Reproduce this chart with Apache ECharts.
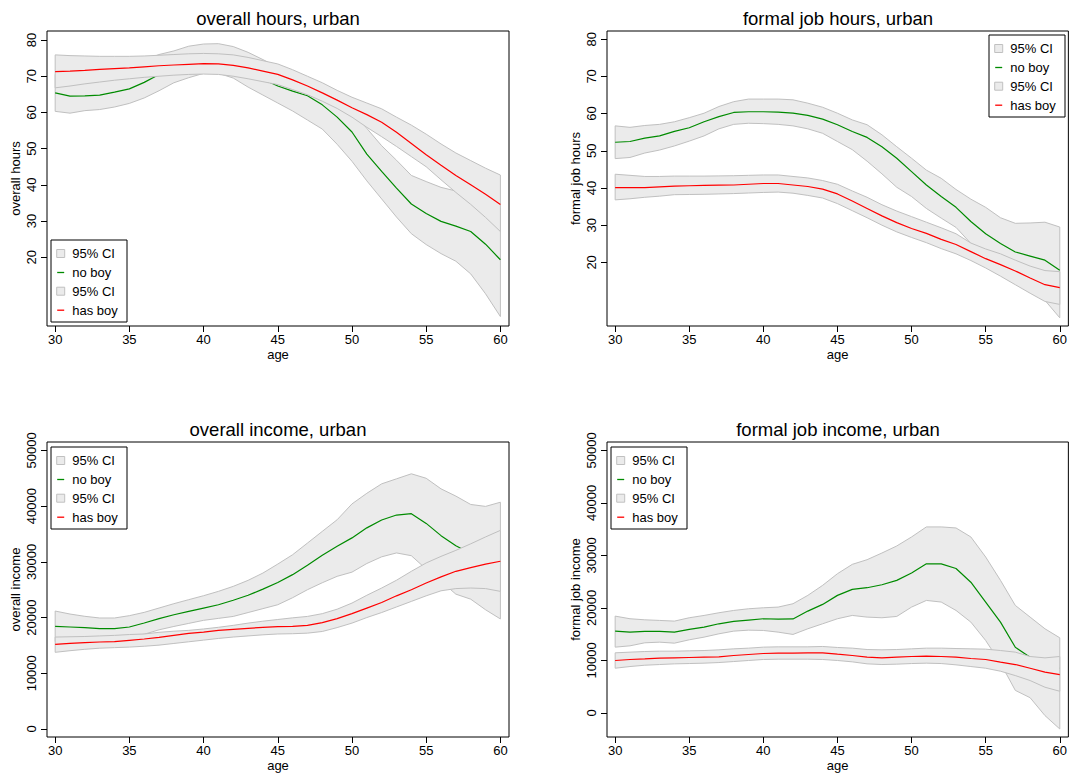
<!DOCTYPE html>
<html>
<head>
<meta charset="utf-8">
<title>Hours and income by age, urban</title>
<script src="https://cdn.jsdelivr.net/npm/echarts@6/dist/echarts.min.js"></script>
<style>
  html, body { margin: 0; padding: 0; background: #fff; }
  #chart { width: 1070px; height: 778px; }
</style>
</head>
<body>
<div id="chart"></div>
<script>
// ---- data -------------------------------------------------------------
const ages = [30, 31, 32, 33, 34, 35, 36, 37, 38, 39, 40, 41, 42, 43, 44, 45,
              46, 47, 48, 49, 50, 51, 52, 53, 54, 55, 56, 57, 58, 59, 60];
const ageTicks = [30, 35, 40, 45, 50, 55, 60];
const hourTicks = [20, 30, 40, 50, 60, 70, 80];
const incomeTicks = [0, 10000, 20000, 30000, 40000, 50000];

// overall hours
const hoursNoBoy   = [65.4, 64.5, 64.6, 64.8, 65.6, 66.5, 68.3, 70.5, 72.0, 73.0, 73.4, 73.3, 72.5, 71.0, 69.2, 67.3, 65.9, 64.6, 62.1, 58.7, 54.6, 48.5, 43.7, 39.1, 34.7, 32.1, 29.9, 28.6, 27.1, 23.6, 19.3];
const hoursNoBoyLo = [60.3, 59.8, 60.5, 60.8, 61.5, 62.5, 64.0, 66.0, 68.2, 69.6, 70.8, 70.8, 69.5, 67.0, 64.8, 62.6, 60.4, 57.9, 55.4, 51.2, 46.5, 41.1, 36.1, 31.1, 26.5, 23.5, 21.0, 18.9, 15.4, 9.9, 3.6];
const hoursNoBoyHi = [70.5, 70.8, 71.0, 71.3, 71.8, 72.5, 74.5, 76.0, 77.0, 78.3, 78.9, 79.0, 78.2, 76.6, 74.6, 72.5, 71.0, 69.5, 67.5, 65.0, 60.5, 55.6, 50.8, 46.8, 42.6, 40.9, 39.3, 38.3, 37.0, 35.5, 33.5];
const hoursHasBoy   = [71.3, 71.4, 71.6, 71.9, 72.1, 72.3, 72.6, 72.9, 73.1, 73.3, 73.5, 73.4, 73.0, 72.3, 71.4, 70.5, 69.0, 67.3, 65.4, 63.4, 61.3, 59.4, 57.3, 54.5, 51.4, 48.3, 45.4, 42.6, 40.0, 37.4, 34.6];
const hoursHasBoyLo = [66.8, 67.3, 67.9, 68.4, 68.9, 69.3, 69.7, 70.0, 70.3, 70.5, 70.6, 70.5, 70.0, 69.3, 68.5, 67.7, 66.3, 64.9, 63.1, 61.1, 58.7, 55.9, 53.3, 50.6, 47.8, 45.0, 41.4, 37.9, 34.6, 31.0, 27.1];
const hoursHasBoyHi = [75.9, 75.7, 75.6, 75.5, 75.5, 75.5, 75.6, 75.8, 76.0, 76.2, 76.3, 76.2, 75.9, 75.2, 74.3, 73.4, 71.8, 70.0, 68.2, 66.1, 64.2, 62.6, 61.0, 58.7, 56.5, 54.0, 51.3, 48.8, 46.7, 44.6, 42.7];

// formal job hours
const formalHoursNoBoy   = [52.3, 52.5, 53.4, 54.0, 55.2, 56.2, 57.8, 59.2, 60.3, 60.5, 60.5, 60.4, 60.1, 59.5, 58.5, 57.0, 55.2, 53.6, 51.1, 48.0, 44.4, 40.8, 37.7, 34.8, 31.0, 27.7, 25.1, 22.8, 21.7, 20.6, 17.9];
const formalHoursNoBoyLo = [47.9, 48.2, 49.4, 50.2, 51.3, 52.6, 54.0, 55.9, 57.1, 57.4, 57.3, 57.1, 56.7, 55.9, 54.7, 52.5, 50.3, 47.2, 43.8, 40.2, 37.7, 34.5, 31.9, 29.4, 25.1, 22.0, 19.0, 16.0, 13.0, 9.8, 5.1];
const formalHoursNoBoyHi = [56.7, 56.3, 56.8, 57.1, 57.8, 58.9, 60.1, 61.9, 63.2, 63.9, 63.9, 63.9, 63.7, 62.8, 61.7, 60.1, 58.3, 57.0, 54.3, 51.1, 48.0, 44.8, 42.6, 39.6, 37.0, 34.8, 32.0, 30.5, 30.6, 30.8, 29.5];
const formalHoursHasBoy   = [40.1, 40.1, 40.1, 40.3, 40.5, 40.6, 40.7, 40.75, 40.8, 41.0, 41.2, 41.2, 40.8, 40.4, 39.7, 38.4, 36.5, 34.5, 32.5, 30.7, 29.1, 27.8, 26.2, 24.8, 22.9, 21.0, 19.4, 17.7, 15.8, 14.0, 13.2];
const formalHoursHasBoyLo = [36.8, 37.1, 37.5, 37.8, 38.2, 38.25, 38.3, 38.4, 38.5, 38.65, 38.8, 38.9, 38.6, 38.0, 37.3, 35.8, 33.9, 32.0, 30.0, 28.2, 26.7, 25.3, 23.7, 22.3, 20.5, 18.5, 16.3, 14.0, 11.7, 9.5, 8.7];
const formalHoursHasBoyHi = [43.7, 43.4, 43.1, 43.1, 43.2, 43.2, 43.2, 43.25, 43.3, 43.4, 43.5, 43.5, 43.1, 42.7, 42.0, 41.0, 39.2, 37.5, 35.5, 33.8, 32.3, 30.8, 29.3, 27.7, 25.2, 23.6, 22.3, 20.6, 19.0, 17.8, 17.5];

// overall income
const incomeNoBoy   = [18420, 18300, 18180, 18000, 18000, 18300, 19020, 19800, 20500, 21100, 21700, 22300, 23100, 24000, 25100, 26300, 27700, 29400, 31200, 32800, 34300, 36100, 37500, 38400, 38650, 36900, 34700, 32900, 31500, 30300, 29800];
const incomeNoBoyLo = [15700, 15800, 15900, 16000, 16200, 16500, 17000, 17800, 18400, 18950, 19500, 19850, 20200, 20900, 21600, 22300, 23560, 25000, 26250, 27400, 28150, 29700, 30900, 31600, 31100, 28700, 26500, 24200, 23300, 21400, 19750];
const incomeNoBoyHi = [21170, 20630, 20220, 19920, 19920, 20340, 20930, 21710, 22490, 23210, 23920, 24700, 25600, 26680, 27990, 29600, 31280, 33370, 35470, 37560, 40400, 42300, 44000, 44900, 45800, 45000, 43100, 41800, 40300, 39950, 40700];
const incomeHasBoy   = [15190, 15370, 15490, 15610, 15670, 15910, 16150, 16450, 16810, 17170, 17400, 17700, 17880, 18060, 18240, 18360, 18420, 18600, 19100, 19800, 20700, 21700, 22700, 23900, 25000, 26200, 27300, 28300, 28950, 29600, 30100];
const incomeHasBoyLo = [13760, 14050, 14300, 14500, 14600, 14700, 14850, 15050, 15350, 15650, 15950, 16250, 16500, 16700, 16900, 17050, 17100, 17200, 17500, 18200, 19000, 20000, 20900, 21900, 22900, 23900, 24800, 25200, 25300, 25200, 24700];
const incomeHasBoyHi = [16500, 16550, 16600, 16700, 16800, 16950, 17050, 17350, 17550, 17700, 17950, 18250, 18600, 19000, 19350, 19650, 19950, 20200, 20700, 21500, 22600, 24000, 25300, 26700, 28300, 29800, 30980, 32060, 33230, 34470, 35650];

// formal job income
const formalIncomeNoBoy   = [15580, 15390, 15520, 15520, 15390, 15900, 16350, 16980, 17430, 17680, 17940, 17870, 17900, 19400, 20670, 22390, 23530, 23850, 24420, 25250, 26650, 28400, 28400, 27500, 24900, 21100, 17300, 12500, 10600, 9500, 8500];
const formalIncomeNoBoyLo = [12530, 12780, 13360, 13480, 13290, 13930, 14440, 15070, 15580, 15770, 15710, 15390, 14950, 16030, 16980, 17940, 18570, 18250, 18130, 18380, 20160, 21430, 21120, 19520, 17300, 13800, 9500, 4300, 2900, -500, -3050];
const formalIncomeNoBoyHi = [18440, 17940, 17740, 17620, 17490, 18130, 18570, 19080, 19520, 19840, 20030, 20160, 20800, 22390, 24300, 26520, 28300, 29190, 30460, 31800, 33520, 35430, 35430, 35230, 33520, 29700, 25250, 20480, 18250, 16030, 14310];
const formalIncomeHasBoy   = [9990, 10180, 10300, 10430, 10490, 10560, 10620, 10680, 10940, 11130, 11320, 11380, 11380, 11450, 11450, 11190, 10940, 10620, 10490, 10620, 10750, 10810, 10750, 10620, 10370, 10180, 9670, 9220, 8520, 7760, 7310];
const formalIncomeHasBoyLo = [8520, 8840, 9090, 9220, 9350, 9410, 9480, 9600, 9790, 9990, 10180, 10240, 10240, 10240, 10180, 9990, 9730, 9350, 9220, 9290, 9410, 9480, 9410, 9160, 8840, 8520, 7950, 7120, 6170, 4900, 4130];
const formalIncomeHasBoyHi = [11450, 11580, 11700, 11770, 11770, 11830, 11890, 12020, 12210, 12340, 12530, 12590, 12590, 12590, 12660, 12470, 12340, 12080, 12020, 12080, 12210, 12340, 12340, 12270, 12210, 12150, 11890, 11580, 10750, 10490, 10750];

const legendLabels = ['95% CI', 'no boy', '95% CI', 'has boy'];

// ---- styling / layout -------------------------------------------------
const FONT = '"Liberation Sans", Arial, Helvetica, sans-serif';
const GREEN = '#008b00';
const RED = '#ff0000';
const BAND_FILL = '#ebebeb';
const BAND_EDGE = '#c0c0c0';

const panels = [
  { title: 'overall hours, urban', yName: 'overall hours',
    grid: { left: 47, top: 31, width: 462, height: 295 },
    yMin: 1.0, yMax: 82.5, yTicks: hourTicks,
    noBoy: hoursNoBoy, noBoyLo: hoursNoBoyLo, noBoyHi: hoursNoBoyHi,
    hasBoy: hoursHasBoy, hasBoyLo: hoursHasBoyLo, hasBoyHi: hoursHasBoyHi,
    legend: [51, 240] },
  { title: 'formal job hours, urban', yName: 'formal job hours',
    grid: { left: 607, top: 31, width: 462, height: 295 },
    yMin: 2.9, yMax: 82.2, yTicks: hourTicks,
    noBoy: formalHoursNoBoy, noBoyLo: formalHoursNoBoyLo, noBoyHi: formalHoursNoBoyHi,
    hasBoy: formalHoursHasBoy, hasBoyLo: formalHoursHasBoyLo, hasBoyHi: formalHoursHasBoyHi,
    legend: [989, 35] },
  { title: 'overall income, urban', yName: 'overall income',
    grid: { left: 47, top: 442, width: 462, height: 295 },
    yMin: -1440, yMax: 51510, yTicks: incomeTicks,
    noBoy: incomeNoBoy, noBoyLo: incomeNoBoyLo, noBoyHi: incomeNoBoyHi,
    hasBoy: incomeHasBoy, hasBoyLo: incomeHasBoyLo, hasBoyHi: incomeHasBoyHi,
    legend: [51, 447] },
  { title: 'formal job income, urban', yName: 'formal job income',
    grid: { left: 607, top: 442, width: 462, height: 295 },
    yMin: -4580, yMax: 51600, yTicks: incomeTicks,
    noBoy: formalIncomeNoBoy, noBoyLo: formalIncomeNoBoyLo, noBoyHi: formalIncomeNoBoyHi,
    hasBoy: formalIncomeHasBoy, hasBoyLo: formalIncomeHasBoyLo, hasBoyHi: formalIncomeHasBoyHi,
    legend: [611, 447] }
];

// Shaded confidence band: one polygon through the upper bound and back
// along the lower bound, placed with the panel's own axes.
function bandSeries(idx, lo, hi, z) {
  return {
    type: 'custom', xAxisIndex: idx, yAxisIndex: idx, z: z, silent: true,
    data: ages.map((a, i) => [a, lo[i], hi[i]]),
    renderItem(params, api) {
      if (params.dataIndex !== 0) return null;
      const pts = [];
      for (let i = 0; i < ages.length; i++) pts.push(api.coord([ages[i], hi[i]]));
      for (let i = ages.length - 1; i >= 0; i--) pts.push(api.coord([ages[i], lo[i]]));
      return {
        type: 'polygon', shape: { points: pts },
        style: { fill: BAND_FILL, stroke: BAND_EDGE, lineWidth: 1 }
      };
    }
  };
}

function lineSeries(idx, values, color, z) {
  return {
    type: 'line', xAxisIndex: idx, yAxisIndex: idx, z: z, silent: true,
    data: ages.map((a, i) => [a, values[i]]),
    showSymbol: false, smooth: false, animation: false,
    lineStyle: { color: color, width: 1.2 }
  };
}

function legendGroup(x, y) {
  const rowY = [13.5, 32.5, 51.2, 70.2];
  const children = [{
    type: 'rect', shape: { x: 0, y: 0, width: 76, height: 82 },
    style: { fill: '#fff', stroke: '#000', lineWidth: 1 }
  }];
  legendLabels.forEach((label, i) => {
    if (i % 2 === 0) {
      children.push({ type: 'rect', shape: { x: 5.7, y: rowY[i] - 4, width: 8, height: 8 },
        style: { fill: BAND_FILL, stroke: BAND_EDGE, lineWidth: 1 } });
    } else {
      children.push({ type: 'line', shape: { x1: 6.2, y1: rowY[i], x2: 13.2, y2: rowY[i] },
        style: { stroke: i === 1 ? GREEN : RED, lineWidth: 1.3 } });
    }
    children.push({ type: 'text', x: 21.3, y: rowY[i],
      style: { text: label, fill: '#000', font: '13px ' + FONT,
               textVerticalAlign: 'middle', verticalAlign: 'middle' } });
  });
  return { type: 'group', x: x, y: y, z: 100, children: children };
}

const grids = [], xAxes = [], yAxes = [], series = [], graphics = [];

panels.forEach((p, idx) => {
  grids.push(Object.assign({ show: true, borderColor: '#000', borderWidth: 1,
                             backgroundColor: 'transparent' }, p.grid));

  xAxes.push({
    type: 'value', gridIndex: idx, min: 29.45, max: 60.58,
    position: 'bottom',
    axisLine: { show: false, onZero: false },
    axisTick: { show: true, customValues: ageTicks, length: 6, inside: false,
                lineStyle: { color: '#000', width: 1 } },
    axisLabel: { customValues: ageTicks, color: '#000', fontSize: 13, fontFamily: FONT,
                 margin: 7, formatter: v => String(v) },
    splitLine: { show: false },
    name: 'age', nameLocation: 'middle', nameGap: 22,
    nameTextStyle: { color: '#000', fontSize: 13, fontFamily: FONT }
  });

  yAxes.push({
    type: 'value', gridIndex: idx, min: p.yMin, max: p.yMax,
    position: 'left',
    axisLine: { show: false, onZero: false },
    axisTick: { show: true, customValues: p.yTicks, length: 6, inside: false,
                lineStyle: { color: '#000', width: 1 } },
    axisLabel: { customValues: p.yTicks, color: '#000', fontSize: 13, fontFamily: FONT,
                 rotate: 90, margin: 9, formatter: v => String(v) },
    splitLine: { show: false },
    name: p.yName, nameLocation: 'middle', nameGap: 25,
    nameTextStyle: { color: '#000', fontSize: 13, fontFamily: FONT }
  });

  // drawing order: no-boy band, no-boy line, has-boy band, has-boy line
  series.push(bandSeries(idx, p.noBoyLo, p.noBoyHi, 1));
  series.push(lineSeries(idx, p.noBoy, GREEN, 2));
  series.push(bandSeries(idx, p.hasBoyLo, p.hasBoyHi, 3));
  series.push(lineSeries(idx, p.hasBoy, RED, 4));

  const cx = p.grid.left + p.grid.width / 2;
  graphics.push({
    type: 'text', x: cx, y: p.grid.top - 12.5, z: 100,
    style: { text: p.title, fill: '#000', font: '18.5px ' + FONT,
             textAlign: 'center', align: 'center',
             textVerticalAlign: 'middle', verticalAlign: 'middle' }
  });
  graphics.push(legendGroup(p.legend[0], p.legend[1]));
});

const chart = echarts.init(document.getElementById('chart'), null, { renderer: 'svg' });
chart.setOption({
  backgroundColor: '#fff',
  animation: false,
  grid: grids,
  xAxis: xAxes,
  yAxis: yAxes,
  series: series,
  graphic: graphics
});
</script>
</body>
</html>
